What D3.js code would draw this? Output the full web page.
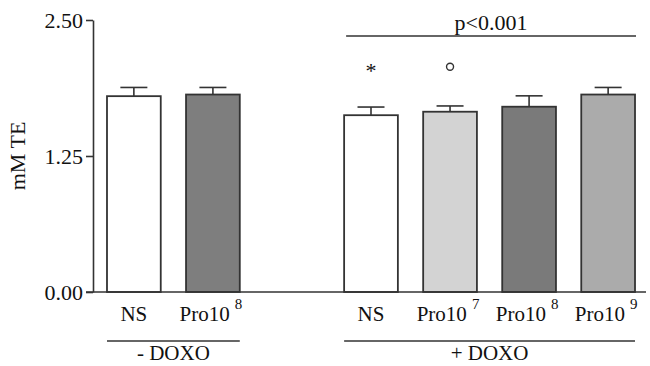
<!DOCTYPE html>
<html>
<head>
  <meta charset="utf-8">
  <script src="https://d3js.org/d3.v7.min.js"></script>
  <style>
    body { margin: 0; background: #fff; }
    text { font-family: "Liberation Serif", "Times New Roman", serif; fill: #111; }
  </style>
</head>
<body>
  <div id="chart"></div>

  <script>
    // bar data (slot 2 is the empty gap between the two groups)
    const slots = ["s0", "s1", "s3", "s4", "s5", "s6"];
    const labels = ["NS", "Pro10", "NS", "Pro10", "Pro10", "Pro10"];
    const exponents = ["", "8", "", "7", "8", "9"];
    const means = [1.80, 1.815, 1.625, 1.657, 1.703, 1.815];
    const errors = [0.08, 0.065, 0.075, 0.053, 0.10, 0.065];
    const fills = ["#ffffff", "#7e7e7e", "#ffffff", "#d3d3d3", "#7a7a7a", "#ababab"];
    const yTicks = [0, 1.25, 2.5];

    const groups = [
      { label: "- DOXO", from: "s0", to: "s1" },
      { label: "+ DOXO", from: "s3", to: "s6" }
    ];
    const markers = [
      { slot: "s3", symbol: "*", value: 2.08 },
      { slot: "s4", symbol: "circle", value: 2.07 }
    ];

    const width = 650;
    const height = 366;
    const margin = { top: 20, bottom: 74, left: 93 };
    const fontSize = 21;

    const svg = d3.select("#chart")
      .append("svg")
      .attr("width", width)
      .attr("height", height);

    const x = d3.scaleBand()
      .domain(["s0", "s1", "s2", "s3", "s4", "s5", "s6"])
      .range([margin.left, 649])
      .paddingInner(0.32)
      .paddingOuter(0.177);

    const y = d3.scaleLinear()
      .domain([0, 2.5])
      .range([height - margin.bottom, margin.top]);

    const ink = "#333";

    // y axis
    const yAxis = svg.append("g")
      .attr("transform", `translate(${margin.left},0)`)
      .call(d3.axisLeft(y).tickValues(yTicks).tickFormat(d3.format(".2f")).tickSize(7).tickSizeOuter(0));
    yAxis.select(".domain").attr("stroke", ink).attr("stroke-width", 1.6);
    yAxis.selectAll(".tick line").attr("stroke", ink).attr("stroke-width", 1.6);
    yAxis.selectAll(".tick text")
      .attr("x", -10)
      .style("font-family", "Liberation Serif, serif")
      .style("font-size", "22px")
      .attr("fill", "#111");

    svg.append("text")
      .attr("transform", `translate(25,${y(1.25)}) rotate(-90)`)
      .attr("text-anchor", "middle")
      .style("font-size", "22px")
      .text("mM TE");

    const data = slots.map((s, i) => ({
      slot: s, label: labels[i], exp: exponents[i],
      mean: means[i], err: errors[i], fill: fills[i]
    }));

    // error bars (drawn first so bar outlines sit on top)
    const capW = 27;
    const eb = svg.append("g").attr("stroke", ink).attr("stroke-width", 1.6);
    eb.selectAll("line.stem")
      .data(data).enter().append("line")
      .attr("x1", d => x(d.slot) + x.bandwidth() / 2)
      .attr("x2", d => x(d.slot) + x.bandwidth() / 2)
      .attr("y1", d => y(d.mean))
      .attr("y2", d => y(d.mean + d.err));
    eb.selectAll("line.cap")
      .data(data).enter().append("line")
      .attr("x1", d => x(d.slot) + x.bandwidth() / 2 - capW / 2)
      .attr("x2", d => x(d.slot) + x.bandwidth() / 2 + capW / 2)
      .attr("y1", d => y(d.mean + d.err))
      .attr("y2", d => y(d.mean + d.err));

    // bars
    svg.selectAll("rect.bar")
      .data(data).enter().append("rect")
      .attr("x", d => x(d.slot))
      .attr("y", d => y(d.mean))
      .attr("width", x.bandwidth())
      .attr("height", d => y(0) - y(d.mean))
      .attr("fill", d => d.fill)
      .attr("stroke", ink)
      .attr("stroke-width", 1.8);

    // baseline
    svg.append("line")
      .attr("x1", margin.left - 7).attr("x2", 646)
      .attr("y1", y(0)).attr("y2", y(0))
      .attr("stroke", ink).attr("stroke-width", 1.6);

    // category labels with superscript exponents
    const lab = svg.selectAll("text.cat")
      .data(data).enter().append("text")
      .attr("x", d => x(d.slot) + x.bandwidth() / 2 + (d.exp ? -2 : 0))
      .attr("y", y(0) + 29)
      .attr("text-anchor", "middle")
      .style("font-size", fontSize + "px");
    lab.append("tspan").text(d => d.label);
    lab.filter(d => d.exp).append("tspan")
      .attr("dx", 5)
      .attr("dy", -12)
      .style("font-size", "15px")
      .text(d => d.exp);

    // group brackets
    groups.forEach(g => {
      const x1 = x(g.from), x2 = x(g.to) + x.bandwidth();
      svg.append("line")
        .attr("x1", x1).attr("x2", x2)
        .attr("y1", 341).attr("y2", 341)
        .attr("stroke", ink).attr("stroke-width", 1.6);
      svg.append("text")
        .attr("x", (x1 + x2) / 2)
        .attr("y", 360)
        .attr("text-anchor", "middle")
        .style("font-size", fontSize + "px")
        .text(g.label);
    });

    // p value bar over + DOXO group
    const px1 = x("s3") + 2, px2 = x("s6") + x.bandwidth() + 1;
    svg.append("line")
      .attr("x1", px1).attr("x2", px2)
      .attr("y1", 36).attr("y2", 36)
      .attr("stroke", ink).attr("stroke-width", 1.6);
    svg.append("text")
      .attr("x", (px1 + px2) / 2)
      .attr("y", 30)
      .attr("text-anchor", "middle")
      .style("font-size", "22px")
      .text("p<0.001");

    // significance markers
    markers.forEach(m => {
      const cx = x(m.slot) + x.bandwidth() / 2;
      if (m.symbol === "circle") {
        svg.append("circle")
          .attr("cx", cx).attr("cy", y(m.value))
          .attr("r", 3.5)
          .attr("fill", "none")
          .attr("stroke", ink)
          .attr("stroke-width", 1.4);
      } else {
        svg.append("text")
          .attr("x", cx).attr("y", y(m.value) + 12)
          .attr("text-anchor", "middle")
          .style("font-size", "22px")
          .text(m.symbol);
      }
    });
  </script>
</body>
</html>
